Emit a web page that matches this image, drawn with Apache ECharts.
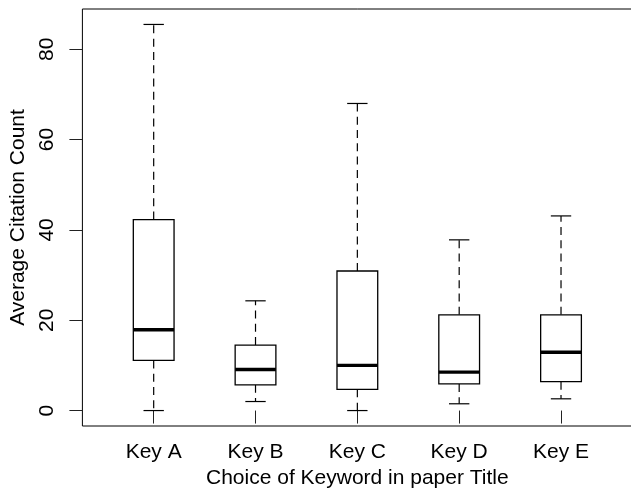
<!DOCTYPE html>
<html>
<head>
<meta charset="utf-8">
<script src="https://cdn.jsdelivr.net/npm/echarts@6/dist/echarts.min.js"></script>
<style>
  html, body { margin: 0; padding: 0; background: #fff; }
  #chart { width: 631px; height: 489px; }
</style>
</head>
<body>
<div id="chart"></div>
<script>
const categories = ["Key A", "Key B", "Key C", "Key D", "Key E"];
const lowerWhisker = [0, 2.0, 0, 1.5, 2.6];
const lowerQuartile = [11.1, 5.7, 4.7, 5.9, 6.4];
const medians = [17.9, 9.1, 10.0, 8.5, 12.9];
const upperQuartile = [42.3, 14.5, 30.9, 21.2, 21.2];
const upperWhisker = [85.5, 24.3, 68.0, 37.8, 43.1];
const yTicks = [0, 20, 40, 60, 80];

const font = "Liberation Sans, Arial, Helvetica, sans-serif";
const boxHalf = 0.2;
const capHalf = 0.1;

const chart = echarts.init(document.getElementById("chart"), null, { renderer: "canvas" });

// [x, low, q1, median, q3, high]
const data = categories.map((c, i) => [
  i + 1,
  lowerWhisker[i],
  lowerQuartile[i],
  medians[i],
  upperQuartile[i],
  upperWhisker[i],
]);

function renderBox(params, api) {
  const x = api.value(0);
  const lo = api.value(1);
  const q1 = api.value(2);
  const md = api.value(3);
  const q3 = api.value(4);
  const hi = api.value(5);
  const tl = api.coord([x - boxHalf, q3]);
  const br = api.coord([x + boxHalf, q1]);
  const mL = api.coord([x - boxHalf, md]);
  const mR = api.coord([x + boxHalf, md]);
  const c = api.coord([x, 0]);
  const pLo = api.coord([x, lo]);
  const pHi = api.coord([x, hi]);
  const capL = api.coord([x - capHalf, 0])[0];
  const capR = api.coord([x + capHalf, 0])[0];
  const dash = { stroke: "#000", lineWidth: 1.2, lineDash: [8, 5.3] };
  const solid = { stroke: "#000", lineWidth: 1.2 };
  return {
    type: "group",
    children: [
      { type: "line", shape: { x1: c[0], y1: tl[1], x2: c[0], y2: pHi[1] }, style: dash },
      { type: "line", shape: { x1: c[0], y1: br[1], x2: c[0], y2: pLo[1] }, style: dash },
      { type: "line", shape: { x1: capL, y1: pHi[1], x2: capR, y2: pHi[1] }, style: solid },
      { type: "line", shape: { x1: capL, y1: pLo[1], x2: capR, y2: pLo[1] }, style: solid },
      {
        type: "rect",
        shape: { x: tl[0], y: tl[1], width: br[0] - tl[0], height: br[1] - tl[1] },
        style: { fill: "#fff", stroke: "#000", lineWidth: 1.3 },
      },
      { type: "line", shape: { x1: mL[0], y1: mL[1], x2: mR[0], y2: mR[1] }, style: { stroke: "#000", lineWidth: 3.4 } },
    ],
  };
}

const options = {
  animation: false,
  backgroundColor: "#fff",
  grid: {
    left: 82.4,
    top: 9,
    bottom: 63,
    right: -1.3,
    outerBoundsMode: "none",
    containLabel: false,
    show: true,
    borderColor: "#000",
    borderWidth: 1,
  },
  xAxis: {
    type: "value",
    min: 0.3,
    max: 5.7,
    name: "Choice of Keyword in paper Title",
    nameLocation: "middle",
    nameGap: 41,
    nameTextStyle: { fontFamily: font, fontSize: 21, color: "#000" },
    axisLine: { show: false },
    splitLine: { show: false },
    axisTick: { show: true, length: 13, customValues: [1, 2, 3, 4, 5], lineStyle: { color: "#222", width: 1 } },
    axisLabel: {
      customValues: [1, 2, 3, 4, 5],
      formatter: (v) => categories[Math.round(v) - 1],
      margin: 16,
      fontFamily: font,
      fontSize: 21,
      color: "#000",
    },
  },
  yAxis: {
    type: "value",
    min: -3.42,
    max: 88.92,
    name: "Average Citation Count",
    nameLocation: "middle",
    nameRotate: 90,
    nameGap: 51,
    nameTextStyle: { fontFamily: font, fontSize: 21, color: "#000" },
    axisLine: { show: false },
    splitLine: { show: false },
    axisTick: { show: true, length: 13, customValues: yTicks, lineStyle: { color: "#222", width: 1 } },
    axisLabel: {
      customValues: yTicks,
      rotate: 90,
      margin: 25,
      fontFamily: font,
      fontSize: 21,
      color: "#000",
    },
  },
  series: [
    {
      type: "custom",
      renderItem: renderBox,
      data: data,
      encode: { x: 0, y: [1, 2, 3, 4, 5] },
      silent: true,
    },
  ],
};

chart.setOption(options);
</script>
</body>
</html>
